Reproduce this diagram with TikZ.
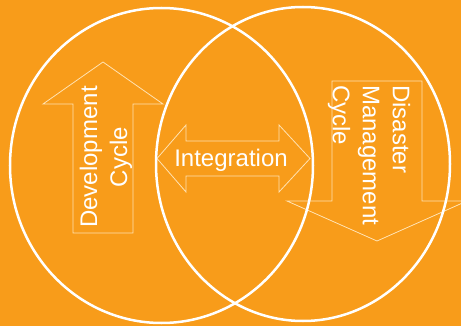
\documentclass[tikz,border=0pt]{standalone}
\usepackage{fontspec}
\setmainfont{Liberation Sans}
\definecolor{bgorange}{RGB}{248,156,26}
\definecolor{paleline}{RGB}{255,226,178}
\begin{document}
\begin{tikzpicture}[x=1pt,y=-1pt]
  \fill [bgorange] (0,0) rectangle (461,326);
  \useasboundingbox (0,0) rectangle (461,326);
  \clip (0,0) rectangle (461,326);
  % block arrows
  \draw [paleline,line width=0.8pt,line join=miter] (73,233) -- (73,104) -- (43,104) -- (103,62) -- (163,104) -- (133,104) -- (133,233) -- cycle;
  \draw [paleline,line width=0.8pt,line join=miter] (157,158.5) -- (186,125) -- (186,141) -- (279,141) -- (279,125) -- (310,158.5) --
   (279,192) -- (279,176) -- (186,176) -- (186,192) -- cycle;
  \draw [paleline,line width=0.8pt,line join=miter] (332,81) -- (422,81) -- (422,201) -- (467,201) -- (377,241) -- (287,201) -- (332,201) -- cycle;
  % the two cycles
  \draw [white,line width=2.5pt] (161.5,165.5) ellipse (151.5 and 157.5);
  \draw [white,line width=2.5pt] (303,164) ellipse (147 and 157);
  \node [white,rotate=90,align=center,inner sep=0pt,font=\fontsize{24}{30}\selectfont] (dev) at (106,157) {Development\\Cycle};
  \node [white,anchor=base,inner sep=0pt,font=\fontsize{24}{30}\selectfont] (integ) at (231,167) {Integration};
  \node [white,rotate=-90,anchor=west,align=left,inner sep=0pt,font=\fontsize{24}{30}\selectfont] (dis) at (369,85) {Disaster\\Management\\Cycle};
\end{tikzpicture}
\end{document}
